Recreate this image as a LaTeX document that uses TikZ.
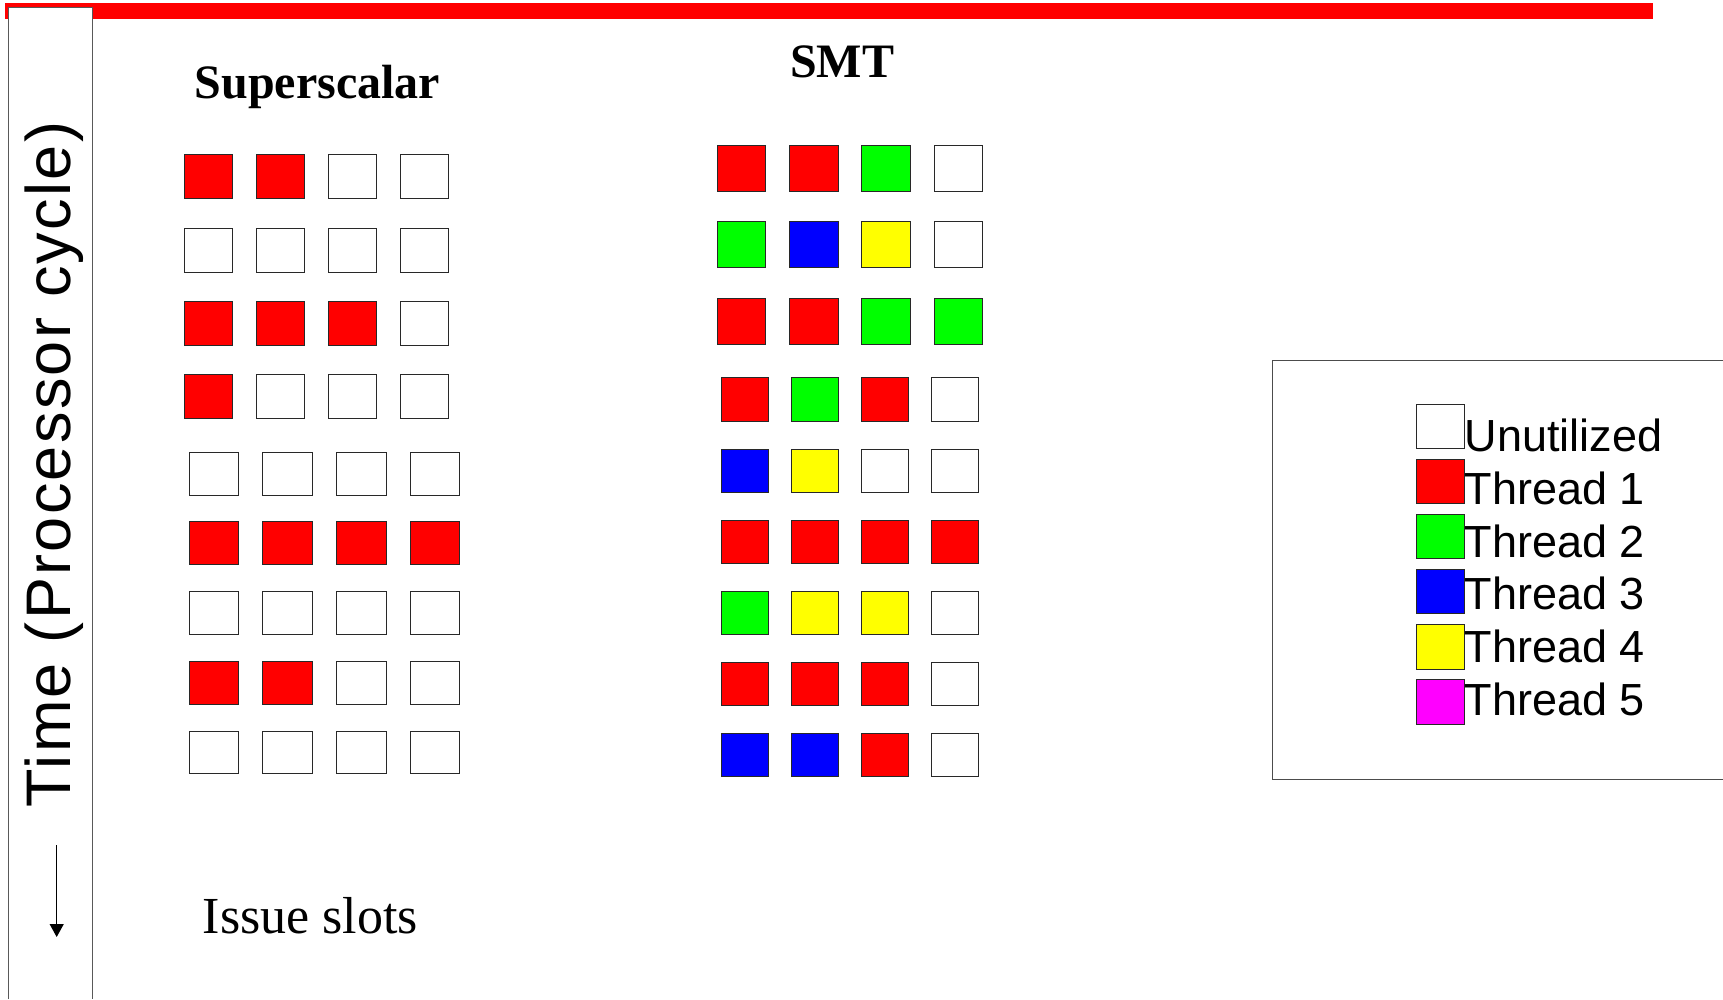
\documentclass[tikz,border=0pt]{standalone}
\usepackage{fontspec}
\setmainfont{Liberation Serif}
\newfontfamily\lsans{Liberation Sans}
\newfontfamily\lsanssp[LetterSpace=3.7]{Liberation Sans}
\usetikzlibrary{arrows.meta}
\definecolor{R}{RGB}{255,0,0}
\definecolor{G}{RGB}{0,255,0}
\definecolor{B}{RGB}{0,0,255}
\definecolor{Y}{RGB}{255,255,0}
\definecolor{M}{RGB}{255,0,255}
\definecolor{W}{RGB}{255,255,255}
\definecolor{edge}{RGB}{40,40,40}
\begin{document}
\begin{tikzpicture}[x=1pt,y=-1pt,
  cell/.style={draw=edge, line width=1pt, inner sep=0pt, outer sep=0pt, anchor=north west},
  title/.style={font=\bfseries\fontsize{48}{56}\selectfont, anchor=base, inner sep=0pt},
  legtxt/.style={font=\lsans\fontsize{45}{52}\selectfont, anchor=base west, inner sep=0pt}]
\useasboundingbox (0,0) rectangle (1723,999);
% red top bar
\fill[R] (5,3) rectangle (1653,19);
% left time box
\path[fill=white] (8.3,7.5) rectangle (92.7,999);
\draw[draw=gray!70!black, line width=1.3pt] (8.3,999) -- (8.3,7.5) -- (92.7,7.5) -- (92.7,999);
\node[font=\lsanssp\fontsize{63}{70}\selectfont, rotate=90, anchor=base, inner sep=0pt] (time) at (70,464.7) {Time (Processor cycle)};
\coordinate (aTop) at (56.7,845);
\coordinate (aBot) at (56.7,937);
\draw[line width=1.2pt, -{Triangle[length=13pt,width=14pt]}] (aTop) -- (aBot);
% titles
\node[title] (tSS) at (317.5,98) {Superscalar};
\node[title] (tSMT) at (842,77.7) {SMT};
\node[font=\fontsize{52}{60}\selectfont, anchor=base, inner sep=0pt] (issue) at (310.5,933.3) {Issue slots};
% Superscalar grid
\foreach \r/\y/\cols in {1/154.3/{R,R,W,W},2/228/{W,W,W,W},3/301.3/{R,R,R,W},4/374.3/{R,W,W,W}}{
  \foreach \c [count=\i] in \cols {
    \node[cell, fill=\c, minimum width=48pt, minimum height=44.5pt] (ss-\r-\i) at ({184.3+(\i-1)*72.1},\y) {};
  }
}
\foreach \r/\y/\cols in {5/452.5/{W,W,W,W},6/521.9/{R,R,R,R},7/591.7/{W,W,W,W},8/661.9/{R,R,W,W},9/731.3/{W,W,W,W}}{
  \foreach \c [count=\i] in \cols {
    \node[cell, fill=\c, minimum width=49.5pt, minimum height=42.5pt] (ss-\r-\i) at ({189+(\i-1)*73.8},\y) {};
  }
}
% SMT grid
\foreach \r/\y/\cols in {1/145.3/{R,R,G,W},2/221.7/{G,B,Y,W},3/298.3/{R,R,G,G}}{
  \foreach \c [count=\i] in \cols {
    \node[cell, fill=\c, minimum width=48.5pt, minimum height=46pt] (smt-\r-\i) at ({717.3+(\i-1)*72.3},\y) {};
  }
}
\foreach \r/\y/\cols in {4/377.7/{R,G,R,W},5/449/{B,Y,W,W},6/520/{R,R,R,R},7/591/{G,Y,Y,W},8/662/{R,R,R,W},9/733/{B,B,R,W}}{
  \foreach \c [count=\i] in \cols {
    \node[cell, fill=\c, minimum width=47pt, minimum height=43.5pt] (smt-\r-\i) at ({721.3+(\i-1)*70},\y) {};
  }
}
% legend
\draw[draw=gray!60!black, line width=1pt] (1723,360) -- (1272.3,360) -- (1272.3,779) -- (1723,779);
\foreach \k/\c/\t/\b/\txt in {0/W/404/451/Unutilized,1/R/459.3/504/Thread 1,2/G/514.3/557.3/Thread 2,3/B/569.3/609.3/Thread 3,4/Y/624.7/662.7/Thread 4,5/M/679.7/715/Thread 5}{
  \node[cell, fill=\c, minimum width=47.6pt, minimum height=44.3pt] (lg-\k) at (1416.7,\t) {};
  \node[legtxt] (lt-\k) at (1464.5,\b) {\txt};
}
\end{tikzpicture}
\end{document}
